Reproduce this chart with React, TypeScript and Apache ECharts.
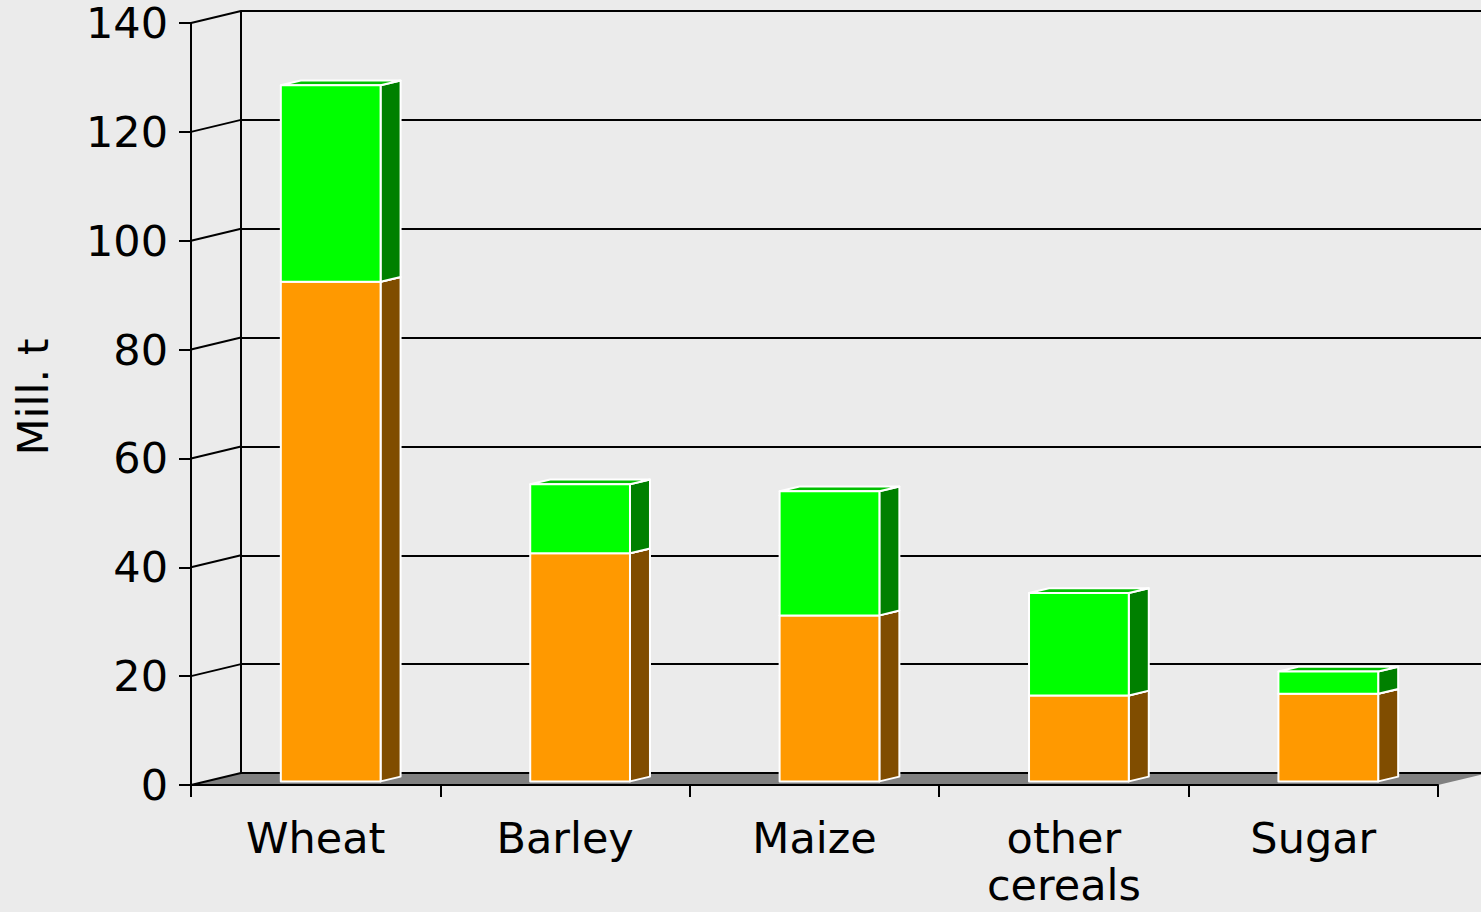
import React, { useEffect, useRef } from "react";
import * as echarts from "echarts";

const categories = ["Wheat", "Barley", "Maize", "other\ncereals", "Sugar"];
const lowerValues = [91.8, 41.9, 30.5, 15.8, 16.1];
const upperValues = [36.1, 12.7, 22.8, 18.8, 4.1];
const yTicks = [0, 20, 40, 60, 80, 100, 120, 140];

const DX = 50;
const DY = -12;
const FONT = "DejaVu Sans";

function makeBarRender(front: string, side: string, top: string) {
  return (params: any, api: any) => {
    const i = api.value(0);
    const base = api.value(1);
    const val = api.value(2);
    const center = api.coord([i, 0])[0];
    const w = api.size([1, 0])[0];
    const x0 = center - 0.2 * w + 0.3 * DX;
    const x1 = x0 + 0.4 * w;
    const yb = api.coord([i, base])[1] + 0.3 * DY;
    const yt = api.coord([i, val])[1] + 0.3 * DY;
    const ddx = 0.4 * DX;
    const ddy = 0.4 * DY;
    const stroke = { stroke: "#ffffff", lineWidth: 2, lineJoin: "round" };
    return {
      type: "group",
      children: [
        {
          type: "polygon",
          shape: { points: [[x1, yb], [x1 + ddx, yb + ddy], [x1 + ddx, yt + ddy], [x1, yt]] },
          style: { fill: side, ...stroke },
        },
        {
          type: "polygon",
          shape: { points: [[x0, yt], [x1, yt], [x1 + ddx, yt + ddy], [x0 + ddx, yt + ddy]] },
          style: { fill: top, ...stroke },
        },
        {
          type: "rect",
          shape: { x: x0, y: yt, width: x1 - x0, height: yb - yt },
          style: { fill: front, ...stroke },
        },
      ],
    };
  };
}

export default function App() {
  const ref = useRef<HTMLDivElement>(null);
  useEffect(() => {
    if (!ref.current) return;
    const chart = echarts.init(ref.current, undefined, { renderer: "svg" });
    const lowerData = categories.map((_, i) => [i, 0, lowerValues[i]]);
    const upperData = categories.map((_, i) => [i, lowerValues[i], lowerValues[i] + upperValues[i]]);
    const option: any = {
      animation: false,
      backgroundColor: "#EBEBEB",
      textStyle: { fontFamily: FONT },
      grid: [
        { left: 191, right: 43, top: 23, bottom: 127 },
        { left: 241, right: 0, top: 11, bottom: 139 },
      ],
      xAxis: [
        {
          type: "category",
          gridIndex: 0,
          data: categories,
          axisLine: { show: true, lineStyle: { color: "#000", width: 2 } },
          axisTick: { show: true, length: 12, lineStyle: { color: "#000", width: 2 } },
          axisLabel: { fontSize: 43, color: "#000", margin: 29, lineHeight: 47, fontFamily: FONT },
          splitLine: { show: false },
        },
        { type: "value", gridIndex: 1, show: false, splitLine: { show: false } },
      ],
      yAxis: [
        {
          type: "value",
          gridIndex: 0,
          min: 0,
          max: 140,
          interval: 20,
          name: "Mill. t",
          nameLocation: "middle",
          nameGap: 137,
          nameTextStyle: { fontSize: 43, color: "#000", fontFamily: FONT, lineHeight: 43, padding: [0, 0, 0, 14] },
          axisLine: { show: true, lineStyle: { color: "#000", width: 2 } },
          axisTick: { show: true, length: 12, lineStyle: { color: "#000", width: 2 } },
          axisLabel: { fontSize: 43, color: "#000", margin: 23, lineHeight: 40, fontFamily: FONT },
          splitLine: { show: false },
        },
        {
          type: "value",
          gridIndex: 1,
          min: 0,
          max: 140,
          interval: 20,
          axisLine: { show: true, lineStyle: { color: "#000", width: 2 } },
          axisTick: { show: false },
          axisLabel: { show: false },
          splitLine: { show: true, lineStyle: { color: "#000", width: 2 } },
        },
      ],
      series: [
        {
          type: "custom",
          xAxisIndex: 0,
          yAxisIndex: 0,
          z: -1,
          data: [[0]],
          silent: true,
          renderItem: (params: any, api: any) => {
            const cs = params.coordSys;
            const y0 = api.coord([0, 0])[1];
            const xl = cs.x;
            const xr = cs.x + cs.width;
            return {
              type: "polygon",
              shape: { points: [[xl, y0], [xr, y0], [xr + DX, y0 + DY], [xl + DX, y0 + DY]] },
              style: { fill: "#808080" },
            };
          },
        },
        {
          type: "custom",
          xAxisIndex: 0,
          yAxisIndex: 0,
          data: yTicks.map((v) => [v]),
          silent: true,
          renderItem: (params: any, api: any) => {
            const cs = params.coordSys;
            const y = api.coord([0, api.value(0)])[1];
            return {
              type: "line",
              shape: { x1: cs.x, y1: y, x2: cs.x + DX, y2: y + DY },
              style: { stroke: "#000", lineWidth: 2 },
            };
          },
        },
        {
          type: "custom",
          name: "lower",
          xAxisIndex: 0,
          yAxisIndex: 0,
          data: lowerData,
          renderItem: makeBarRender("#FF9900", "#804D00", "#C07300"),
        },
        {
          type: "custom",
          name: "upper",
          xAxisIndex: 0,
          yAxisIndex: 0,
          data: upperData,
          renderItem: makeBarRender("#00FF00", "#008000", "#00C000"),
        },
      ],
    };
    chart.setOption(option);
    return () => chart.dispose();
  }, []);
  return (
    <div
      ref={ref}
      style={{ position: "fixed", left: 0, top: 0, width: 1481, height: 912 }}
    />
  );
}
